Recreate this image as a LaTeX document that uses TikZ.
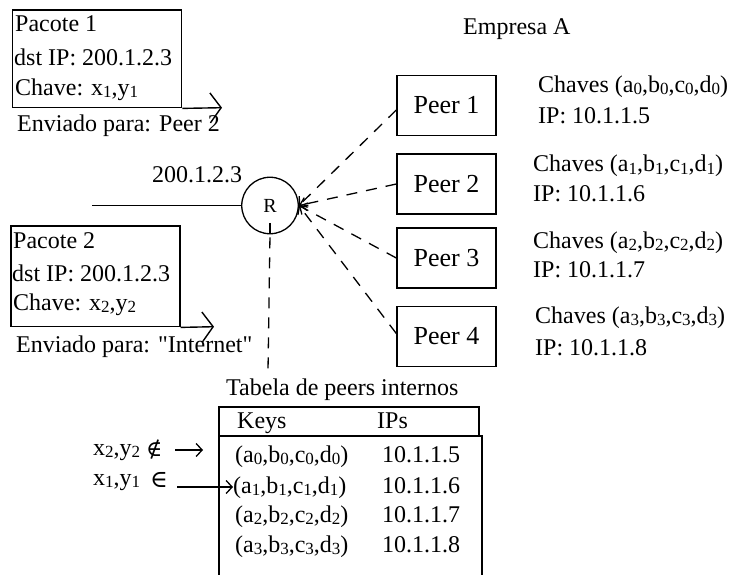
\documentclass[tikz,border=0pt]{standalone}
\usepackage{fontspec}
\setmainfont{Liberation Serif}[Ligatures=TeXOff]
\newfontfamily\symfont{DejaVu Serif}
\usetikzlibrary{arrows.meta}
\newcommand{\sbs}[1]{\raisebox{-2pt}{\fontsize{17}{17}\selectfont #1}}
\begin{document}
\begin{tikzpicture}[x=1pt,y=-1pt,
  txt/.style={inner sep=0pt, anchor=base west, font=\fontsize{24}{28}\selectfont},
  boxstyle/.style={draw, line width=1.4pt, inner sep=0pt},
  peerbox/.style={boxstyle, minimum width=99, minimum height=60, font=\fontsize{26}{30}\selectfont},
  bigbarb/.style={line width=1.4pt, -{Straight Barb[length=11pt,width=30pt,line width=1.4pt]}},
  smallbarb/.style={line width=1.3pt, -{Straight Barb[length=6pt,width=13pt,line width=1.3pt]}},
  dashline/.style={line width=1.3pt, dash pattern=on 11pt off 9pt},
]
\useasboundingbox (0,0) rectangle (729,575);

% Pacote 1
\node[boxstyle, minimum width=169, minimum height=97.7] (pac1) at (97.2,58.85) {};
\node[txt] (p1a) at (15,32) {Pacote 1};
\node[txt] (p1b) at (14,66) {dst IP: 200.1.2.3};
\node[txt] (p1c) at (15,96) {Chave: x\sbs{1},y\sbs{1}};
\coordinate (tip1) at (222,107.7);
\draw[bigbarb] (pac1.south east) -- (tip1);
\node[txt] (env1) at (17,132) {Enviado para: Peer 2};

% Pacote 2
\node[boxstyle, minimum width=169, minimum height=100.7] (pac2) at (95.5,276.35) {};
\node[txt] (p2a) at (13,248) {Pacote 2};
\node[txt] (p2b) at (12,281) {dst IP: 200.1.2.3};
\node[txt] (p2c) at (13,310) {Chave: x\sbs{2},y\sbs{2}};
\coordinate (tip2) at (214,326.7);
\draw[bigbarb] (pac2.south east) -- (tip2);
\node[txt] (env2) at (16,352) {Enviado para: "Internet"};

% Router
\node[draw, circle, line width=1.3pt, minimum size=56.5, inner sep=0pt, font=\fontsize{20}{24}\selectfont] (R) at (270,205.5) {R};
\node[txt] (rip) at (152,183) {200.1.2.3};
\coordinate (lineL) at (92,205.5);
\draw[line width=1.3pt] (lineL) -- (R.west);
\coordinate (tick) at (270,223);
\draw[line width=1.3pt] (tick) -- (R.south);
\coordinate (tabtop) at (268,371);
\draw[dashline, dash phase=17pt] (R.south) -- (tabtop);

\node[txt] (emp) at (463,35) {Empresa A};

% Peers
\node[peerbox] (peer1) at (446.5,105.5) {Peer 1};
\node[peerbox] (peer2) at (446.5,184) {Peer 2};
\node[peerbox] (peer3) at (446.5,258) {Peer 3};
\node[peerbox] (peer4) at (446.5,336.5) {Peer 4};

\draw[dashline, smallbarb, dash pattern=on 11pt off 9pt] ([yshift=-4.5pt]peer1.west) -- (R.east);
\draw[dashline, smallbarb, dash pattern=on 11pt off 9pt] (peer2.west) -- (R.east);
\draw[dashline, smallbarb, dash pattern=on 11pt off 9pt] (peer3.west) -- (R.east);
\draw[dashline, smallbarb, dash pattern=on 11pt off 9pt] ([yshift=3pt]peer4.west) -- (R.east);

\node[txt] (c1) at (538,93) {Chaves (a\sbs{0},b\sbs{0},c\sbs{0},d\sbs{0})};
\node[txt] (i1) at (538,124) {IP: 10.1.1.5};
\node[txt] (c2) at (533,172) {Chaves (a\sbs{1},b\sbs{1},c\sbs{1},d\sbs{1})};
\node[txt] (i2) at (533,202) {IP: 10.1.1.6};
\node[txt] (c3) at (533,248) {Chaves (a\sbs{2},b\sbs{2},c\sbs{2},d\sbs{2})};
\node[txt] (i3) at (533,277) {IP: 10.1.1.7};
\node[txt] (c4) at (535,323) {Chaves (a\sbs{3},b\sbs{3},c\sbs{3},d\sbs{3})};
\node[txt] (i4) at (535,355) {IP: 10.1.1.8};

% Table
\node[txt] (tabt) at (226,395) {Tabela de peers internos};
\node[boxstyle, minimum width=260, minimum height=29] (hdr) at (349,421.5) {};
\draw[line width=1.4pt] (219,575) -- (219,436) -- (482,436) -- (482,575);
\node[txt] (hk) at (237,428) {Keys};
\node[txt] (hi) at (377,428) {IPs};
\node[txt] (k1) at (235,462) {(a\sbs{0},b\sbs{0},c\sbs{0},d\sbs{0})};
\node[txt] (v1) at (382,462) {10.1.1.5};
\node[txt] (k2) at (233,493) {(a\sbs{1},b\sbs{1},c\sbs{1},d\sbs{1})};
\node[txt] (v2) at (382,493) {10.1.1.6};
\node[txt] (k3) at (235,522) {(a\sbs{2},b\sbs{2},c\sbs{2},d\sbs{2})};
\node[txt] (v3) at (382,522) {10.1.1.7};
\node[txt] (k4) at (235,552) {(a\sbs{3},b\sbs{3},c\sbs{3},d\sbs{3})};
\node[txt] (v4) at (382,552) {10.1.1.8};

% membership
\node[txt] (x2) at (93,455) {x\sbs{2},y\sbs{2}};
\node[txt, font=\fontsize{22}{24}\selectfont\symfont] (notin) at (146,456) {∉};
\coordinate (a2s) at (175,450);
\coordinate (a2e) at (203,450);
\draw[smallbarb] (a2s) -- (a2e);
\node[txt] (x1) at (93,485) {x\sbs{1},y\sbs{1}};
\node[txt, font=\fontsize{24}{26}\selectfont\symfont] (isin) at (150,487) {∈};
\coordinate (a1s) at (177,487);
\draw[smallbarb] (a1s) -- (k2.west |- a1s);
\end{tikzpicture}
\end{document}
